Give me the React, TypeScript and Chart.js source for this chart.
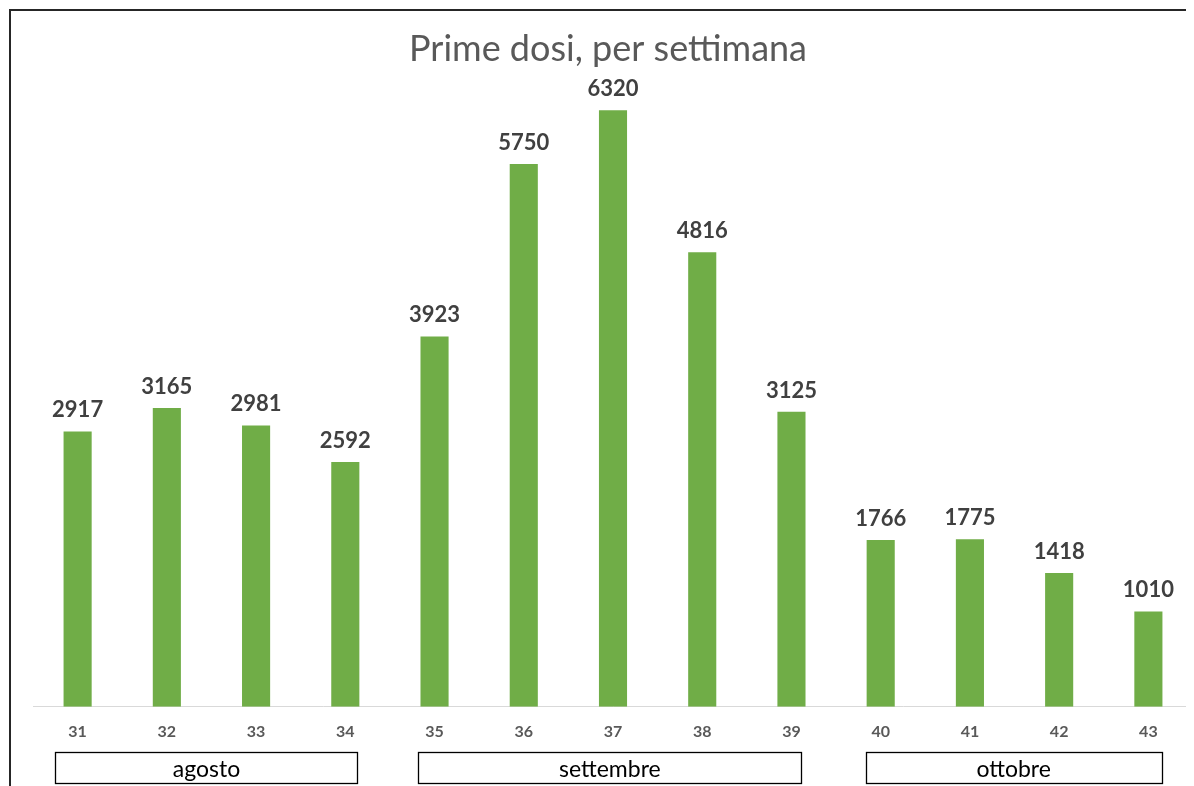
import React, { useEffect, useRef } from "react";
import { Chart, registerables } from "chart.js";

Chart.register(...registerables);

const weeks = ["31", "32", "33", "34", "35", "36", "37", "38", "39", "40", "41", "42", "43"];
const firstDoses = [2917, 3165, 2981, 2592, 3923, 5750, 6320, 4816, 3125, 1766, 1775, 1418, 1010];
const months = ["agosto", "settembre", "ottobre"];
const monthStart = [0, 4, 9];
const monthEnd = [3, 8, 12];
const titleText = "Prime dosi, per settimana";

const FONT = "Lato, 'Open Sans', sans-serif";

const overlayPlugin = {
  id: "overlay",
  afterDatasetsDraw(chart: any) {
    const ctx = chart.ctx as CanvasRenderingContext2D;
    const meta = chart.getDatasetMeta(0);
    ctx.save();
    // data labels
    ctx.fillStyle = "#404040";
    ctx.font = `bold 22px ${FONT}`;
    ctx.textAlign = "center";
    ctx.textBaseline = "alphabetic";
    meta.data.forEach((bar: any, i: number) => {
      ctx.fillText(String(firstDoses[i]), bar.x, bar.y - 14);
    });
    // title
    ctx.fillStyle = "#595959";
    ctx.font = `36px ${FONT}`;
    ctx.fillText(titleText, 597, 50);
    // month boxes
    const xs = chart.scales.x;
    const w = xs.getPixelForValue(1) - xs.getPixelForValue(0);
    const offL = [0.25, 0.18, 0.17];
    const offR = [0.14, 0.11, 0.15];
    ctx.strokeStyle = "#000000";
    ctx.lineWidth = 1.3;
    ctx.font = `23px ${FONT}`;
    ctx.fillStyle = "#000000";
    months.forEach((m, i) => {
      const l = xs.getPixelForValue(monthStart[i]) - offL[i] * w;
      const r = xs.getPixelForValue(monthEnd[i]) + offR[i] * w;
      const top = 741.5;
      const h = 31;
      ctx.strokeRect(Math.round(l) + 0.5, top, Math.round(r - l), h);
      ctx.fillText(m, (l + r) / 2, top + 24);
    });
    ctx.restore();
  },
};

export default function App() {
  const ref = useRef<HTMLCanvasElement | null>(null);
  useEffect(() => {
    if (!ref.current) return;
    const chart = new Chart(ref.current, {
      type: "bar",
      data: {
        labels: weeks,
        datasets: [
          {
            data: firstDoses,
            backgroundColor: "#70AD47",
            barPercentage: 0.63,
            categoryPercentage: 0.5,
          },
        ],
      },
      options: {
        responsive: false,
        animation: false,
        layout: { padding: { left: 22, right: 2, top: 35, bottom: 31 } },
        plugins: { legend: { display: false }, title: { display: false }, tooltip: { enabled: false } },
        scales: {
          y: { display: false, min: 0, max: 7000 },
          x: {
            grid: { display: false, drawTicks: false },
            border: { display: true, color: "#d9d9d9", width: 1 },
            ticks: { color: "#595959", font: { family: FONT, size: 16, weight: "bold" }, padding: 15 },
          },
        },
      },
      plugins: [overlayPlugin],
    });
    return () => chart.destroy();
  }, []);
  return (
    <div style={{ marginLeft: 1, marginTop: 1, width: 1185, height: 777, borderTop: "2px solid #262626", borderLeft: "2px solid #262626", overflow: "hidden", background: "#fff" }}>
      <canvas ref={ref} width={1184} height={776} style={{ display: "block" }} />
    </div>
  );
}
